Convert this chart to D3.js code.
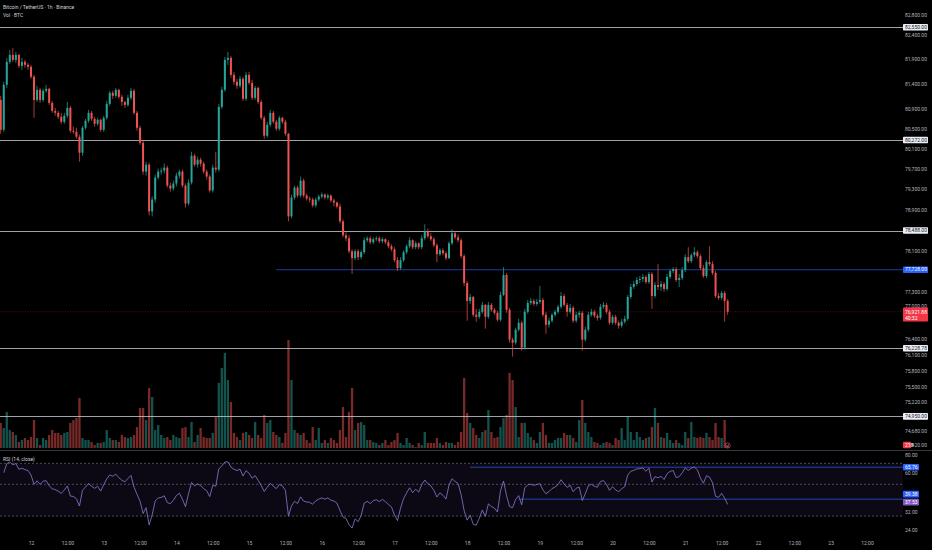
<!DOCTYPE html>
<html>
<head>
<meta charset="utf-8">
<script src="https://cdn.jsdelivr.net/npm/d3@7"></script>
<style>
  html, body { margin: 0; background: #000; }
  svg { display: block; font-family: Roboto, "Noto Sans", sans-serif; }
</style>
</head>
<body>
<div id="chart"></div>
<script>
// BTCUSDT 1h candles, first bar 11th 14:00 (open of the first bar, then closes / highs / lows)
const firstOpen = 81073
const closes = [
  80475,81378,81843,81984,81883,81984,81762,81843,81782,81742,
  81540,81073,81277,81073,81257,81297,81013,80854,80814,80734,
  80635,80754,80914,80455,80435,80336,80018,80515,80655,80814,
  80694,80595,80675,80475,80714,80993,81216,81156,81277,81136,
  81033,80973,81115,81257,80814,80515,80216,79644,79782,78861,
  79094,79526,79644,79664,79723,79369,79310,79409,79566,79644,
  79369,79016,79428,79959,79782,79880,79802,79644,79546,79271,
  79723,79684,80934,81277,81883,81923,81580,81439,81358,81499,
  81095,81580,81418,81115,81317,81033,80714,80356,80575,80814,
  80635,80495,80714,80635,80396,78764,79133,79330,79173,79467,
  79173,79114,79094,78978,79094,79153,79192,79133,79173,79075,
  79036,78958,78667,78396,78338,78086,77952,78086,77971,78067,
  78299,78338,78260,78318,78338,78279,78318,78260,78182,78124,
  77913,77760,77913,78067,78182,78299,78163,78240,78163,78338,
  78473,78376,78318,78202,78028,78105,78047,77952,78240,78434,
  78357,78299,77990,77473,77129,77205,76864,76826,76921,77053,
  76826,77053,76959,76902,76770,77244,77626,76959,76391,76334,
  76580,76713,76240,76921,77091,77129,77072,77110,77148,76864,
  76675,76751,76864,76921,77016,77224,77053,76921,76997,76751,
  76864,76902,76391,76580,76864,76921,76845,76807,77016,77053,
  76921,76713,76826,76713,76656,76732,76788,77205,77397,77454,
  77531,77550,77588,77492,77646,77224,77435,77397,77454,77358,
  77588,77703,77741,77531,77569,77722,77971,77894,78009,78067,
  77990,77760,77607,77875,77837,77665,77224,77186,77282,77129,
  76921.88
]
const highs = [
  81156,81439,81923,82085,82125,82045,82004,81923,81883,81822,
  81782,81580,81358,81317,81297,81378,81317,81053,80914,80854,
  80814,80814,81033,80953,80535,80515,80376,80555,80694,80874,
  80854,80734,80714,80694,80754,81053,81257,81257,81317,81297,
  81176,81053,81176,81317,81297,80854,80555,80256,79841,79821,
  79153,79585,79703,79723,79802,79762,79428,79467,79625,79684,
  79684,79409,79487,80038,79998,79939,79920,79841,79684,79585,
  79782,80038,80993,81338,81944,82045,81964,81641,81499,81560,
  81540,81641,81641,81479,81358,81338,81073,80754,80635,80874,
  80854,80675,80754,80734,80675,80415,79192,79369,79369,79546,
  79507,79212,79153,79133,79133,79192,79232,79212,79212,79192,
  79114,79055,79016,78706,78454,78396,78124,78124,78124,78105,
  78357,78376,78376,78357,78376,78376,78357,78338,78299,78221,
  78163,77971,77971,78105,78221,78357,78318,78279,78260,78396,
  78609,78531,78434,78357,78240,78143,78143,78086,78279,78512,
  78473,78415,78338,78028,77511,77263,77224,76978,76978,77110,
  77072,77110,77091,76997,76940,77301,77779,77665,76997,76429,
  76618,76788,76751,76978,77148,77186,77167,77167,77416,77186,
  76921,76807,76902,76959,77053,77301,77263,77091,77072,77035,
  76921,76940,76940,76637,76921,76978,76959,76883,77072,77110,
  77091,76959,76864,76864,76751,76788,76845,77244,77454,77511,
  77588,77607,77646,77626,77684,77684,77492,77837,77511,77492,
  77646,77741,77779,77779,77646,77779,78028,78163,78047,78163,
  78105,78028,77818,77913,78182,77894,77703,77282,77320,77320,
  77167
]
const lows = [
  80396,80435,81317,81802,81843,81822,81721,81681,81721,81681,
  81499,80714,81033,81013,81033,81216,80973,80814,80754,80694,
  80595,80595,80714,80415,80396,80296,79841,79959,80475,80615,
  80655,80535,80555,80435,80435,80675,80953,81095,81115,81095,
  80953,80914,80934,81073,80774,80455,80177,79585,79566,78784,
  78764,79036,79487,79585,79605,79330,79251,79271,79350,79507,
  79330,78939,78978,79389,79743,79723,79743,79605,79487,79232,
  79232,79625,79644,80894,81237,81782,81519,81378,81297,81317,
  81053,81053,81378,81073,81073,80993,80675,80296,80316,80535,
  80595,80455,80455,80595,80356,78667,78725,79094,79133,79133,
  79133,79075,79036,78939,78939,79055,79114,79094,79094,79036,
  78958,78919,78628,78357,78279,78047,77646,77913,77913,77933,
  78028,78260,78221,78221,78279,78240,78240,78221,78143,78086,
  77875,77703,77722,77875,78028,78143,78124,78124,78124,78124,
  78299,78338,78279,78163,77875,77990,78009,77913,77933,78202,
  78318,78260,77952,77416,76751,77072,76826,76732,76788,76883,
  76599,76788,76921,76864,76732,76732,77224,76902,76334,76070,
  76297,76543,76183,76202,76883,77053,77035,77035,77072,76826,
  76505,76618,76713,76826,76883,76978,77016,76826,76883,76713,
  76713,76807,76183,76353,76543,76826,76807,76751,76770,76978,
  76883,76675,76675,76675,76599,76618,76694,76751,77167,77358,
  77416,77473,77492,77454,77454,76978,77186,77339,77320,77301,
  77320,77550,77665,77492,77397,77531,77684,77856,77856,77971,
  77952,77722,77569,77569,77799,77626,77186,77148,77148,76732,
  76864
]
// volume in BTC
const volumes = [
  1830,1460,2630,1310,1170,950,440,580,730,580,
  800,2040,730,220,730,580,950,1310,1100,1100,
  950,1100,1170,1830,2040,2190,3650,730,580,580,
  440,220,370,370,440,1310,730,580,580,440,
  950,800,730,800,950,1530,2920,2920,2040,4380,
  3720,1310,1680,950,730,800,580,950,800,730,
  1460,1530,800,1900,440,950,1460,800,730,730,
  1100,2260,4750,5840,6940,4960,3360,1100,800,580,
  1100,1170,950,730,1900,950,730,2410,1830,2040,
  1170,950,800,370,1100,7880,4960,1310,1100,950,
  1100,580,370,1530,580,1460,370,580,370,730,
  580,370,1310,2990,800,2630,4380,1310,1830,1900,
  1680,580,580,440,370,220,370,580,220,440,
  580,1100,370,220,730,370,220,70,370,220,
  1170,370,370,370,730,370,220,440,370,370,
  220,440,1170,5110,2560,1830,1460,950,730,1170,
  1310,2770,1170,730,800,1530,2190,2410,5480,4960,
  2990,800,1830,1830,1100,800,580,370,1170,1830,
  950,370,370,580,730,730,1100,950,950,730,
  440,2040,3500,1830,1170,800,440,370,220,370,
  440,370,220,730,580,1460,580,2260,1170,580,
  1170,800,580,730,800,1530,2920,1830,800,730,
  1100,580,370,580,370,220,1170,730,1900,800,
  730,800,730,1100,800,580,1830,800,730,2040,
  218
]

// axis ticks and labels
const priceTicks = [82800, 82400, 81900, 81400, 80900, 80500, 80100, 79700, 79300, 78900,
  78100, 77300, 77000, 76400, 76100, 75800, 75500, 75220, 74680, 74420]
const rsiTicks = [80, 60, 32, 24]
const timeLabels = ['12', '12:00', '13', '12:00', '14', '12:00', '15', '12:00', '16', '12:00',
  '17', '12:00', '18', '12:00', '19', '12:00', '20', '12:00', '21', '12:00', '22', '12:00', '23', '12:00']

// drawn levels
const levels = [82550, 80272, 78488, 76228.78, 74950]
const blueLevel = { price: 77728, from: Date.UTC(2026, 0, 15, 9) }
const rsiLevels = [
  { value: 65.76, from: Date.UTC(2026, 0, 18, 1) },
  { value: 39.38, from: Date.UTC(2026, 0, 18, 17) }
]
const rsiLast = 37.53
const countdown = '40:32'

const W = 932, H = 550, right = 903
const HOUR = 3600e3
const t0 = Date.UTC(2026, 0, 11, 14)
const UP = '#26a69a', DOWN = '#ef5350'
const fmt = d3.format(',.2f')

const candles = closes.map((c, i) => ({
  t: new Date(t0 + i * HOUR),
  o: i ? closes[i - 1] : firstOpen,
  h: highs[i], l: lows[i], c,
  v: volumes[i]
}))

// RSI(14) on closes, Wilder smoothing with expanding seed
function rsi(values, period) {
  let gain = 0, loss = 0
  return values.map((v, i) => {
    if (i === 0) return null
    const d = v - values[i - 1]
    const n = Math.min(i, period)
    gain = (gain * (n - 1) + Math.max(d, 0)) / n
    loss = (loss * (n - 1) + Math.max(-d, 0)) / n
    return loss === 0 ? 100 : 100 - 100 / (1 + gain / loss)
  })
}
const rsiValues = rsi([firstOpen, ...closes], 14).slice(1)

// scales
const x = d3.scaleUtc()
  .domain([new Date(Date.UTC(2026, 0, 12)), new Date(Date.UTC(2026, 0, 23, 12))])
  .range([31, 867])
const y = d3.scaleLog().domain([74420, 82800]).range([445, 15])
const yVol = d3.scaleLinear().domain([0, d3.max(volumes)]).range([448, 340])
const yRsi = d3.scaleLog().domain([24, 80]).range([530, 455])

const svg = d3.select('#chart').append('svg')
  .attr('width', W).attr('height', H)
svg.append('rect').attr('width', W).attr('height', H).attr('fill', '#000')

const defs = svg.append('defs')
defs.append('clipPath').attr('id', 'main-clip')
  .append('rect').attr('x', 0).attr('y', 0).attr('width', right).attr('height', 450)
defs.append('clipPath').attr('id', 'rsi-clip')
  .append('rect').attr('x', 0).attr('y', 451).attr('width', right).attr('height', 85)

// ----- main pane -----
const main = svg.append('g').attr('clip-path', 'url(#main-clip)')

// volume overlay
main.append('g').selectAll('rect')
  .data(candles).join('rect')
  .attr('x', d => x(d.t) - 1.15)
  .attr('width', 2.3)
  .attr('y', d => yVol(d.v))
  .attr('height', d => yVol(0) - yVol(d.v))
  .attr('fill', d => d.c >= d.o ? UP : DOWN)
  .attr('opacity', 0.5)

// horizontal levels
main.append('g').selectAll('line')
  .data(levels).join('line')
  .attr('x1', 0).attr('x2', right)
  .attr('y1', d => Math.round(y(d)) + 0.5).attr('y2', d => Math.round(y(d)) + 0.5)
  .attr('stroke', '#c9ccd4').attr('stroke-width', 0.8)

main.append('line')
  .attr('x1', x(blueLevel.from)).attr('x2', right)
  .attr('y1', y(blueLevel.price)).attr('y2', y(blueLevel.price))
  .attr('stroke', '#2962ff').attr('stroke-width', 0.8).attr('opacity', 0.8)

// last price line
main.append('line')
  .attr('x1', 0).attr('x2', right)
  .attr('y1', y(closes[closes.length - 1])).attr('y2', y(closes[closes.length - 1]))
  .attr('stroke', '#f23645').attr('stroke-width', 0.6)
  .attr('stroke-dasharray', '1,1.5').attr('opacity', 0.55)

// candles
const candle = main.append('g').selectAll('g')
  .data(candles).join('g')
  .attr('fill', d => d.c >= d.o ? UP : DOWN)
  .attr('stroke', d => d.c >= d.o ? UP : DOWN)
candle.append('line')
  .attr('x1', d => x(d.t)).attr('x2', d => x(d.t))
  .attr('y1', d => y(d.h)).attr('y2', d => y(d.l))
  .attr('stroke-width', 0.7)
candle.append('rect')
  .attr('x', d => x(d.t) - 1)
  .attr('width', 2)
  .attr('y', d => y(Math.max(d.o, d.c)))
  .attr('height', d => Math.max(0.7, Math.abs(y(d.o) - y(d.c))))
  .attr('stroke', 'none')

// header
svg.append('text').attr('x', 3).attr('y', 9)
  .attr('font-size', 5).attr('fill', '#d1d4dc')
  .text('Bitcoin / TetherUS · 1h · Binance')
svg.append('text').attr('x', 3).attr('y', 16.5)
  .attr('font-size', 5).attr('fill', '#d1d4dc')
  .text('Vol · BTC')

// ----- RSI pane -----
svg.append('line')
  .attr('x1', 0).attr('x2', W).attr('y1', 450.5).attr('y2', 450.5)
  .attr('stroke', '#434651').attr('stroke-width', 0.8)

const rsiPane = svg.append('g').attr('clip-path', 'url(#rsi-clip)')
rsiPane.append('rect')
  .attr('x', 0).attr('width', right)
  .attr('y', yRsi(70)).attr('height', yRsi(30) - yRsi(70))
  .attr('fill', '#7e57c2').attr('opacity', 0.1)
rsiPane.append('g').selectAll('line')
  .data([70, 50, 30]).join('line')
  .attr('x1', 0).attr('x2', right)
  .attr('y1', d => yRsi(d)).attr('y2', d => yRsi(d))
  .attr('stroke', '#787b86').attr('stroke-width', 0.6)
  .attr('stroke-dasharray', '2,2')
rsiPane.append('g').selectAll('line')
  .data(rsiLevels).join('line')
  .attr('x1', d => x(d.from)).attr('x2', right)
  .attr('y1', d => yRsi(d.value)).attr('y2', d => yRsi(d.value))
  .attr('stroke', '#2962ff').attr('stroke-width', 0.8).attr('opacity', 0.85)
rsiPane.append('path')
  .datum(candles.map((d, i) => [d.t, rsiValues[i]]).slice(1))
  .attr('fill', 'none')
  .attr('stroke', '#8e79d4').attr('stroke-width', 0.8)
  .attr('d', d3.line().x(d => x(d[0])).y(d => yRsi(d[1])))

svg.append('text').attr('x', 3).attr('y', 461)
  .attr('font-size', 5).attr('fill', '#d1d4dc')
  .text('RSI (14, close)')

// ----- axes -----
function styleAxis(g) {
  g.attr('font-size', 5).attr('font-family', 'Roboto, "Noto Sans", sans-serif')
  g.select('.domain').remove()
  g.selectAll('text').attr('fill', '#b2b5be')
}

svg.append('g')
  .attr('transform', `translate(${right},0)`)
  .call(d3.axisRight(y).tickValues(priceTicks).tickFormat(fmt).tickSize(0).tickPadding(2))
  .call(styleAxis)
  .call(g => g.selectAll('.tick').filter(d => d === 77000).select('text').attr('dy', '0.05em'))

svg.append('g')
  .attr('transform', `translate(${right},0)`)
  .call(d3.axisRight(yRsi).tickValues(rsiTicks).tickFormat(d3.format('.2f')).tickSize(0).tickPadding(2))
  .call(styleAxis)

const timeTicks = timeLabels.map((_, i) => new Date(Date.UTC(2026, 0, 12) + i * 12 * HOUR))
svg.append('g')
  .attr('transform', 'translate(0,538)')
  .call(d3.axisBottom(x).tickValues(timeTicks).tickFormat((d, i) => timeLabels[i]).tickSize(0).tickPadding(3))
  .call(styleAxis)

// axis tags
function tag(yPos, text, fill, color, w = 25) {
  const g = svg.append('g')
  g.append('rect')
    .attr('x', right).attr('y', yPos - 3.3)
    .attr('width', w).attr('height', 6.6).attr('rx', 0.8)
    .attr('fill', fill)
  g.append('text')
    .attr('x', right + 2).attr('y', yPos).attr('dy', '0.35em')
    .attr('font-size', 5).attr('fill', color)
    .text(text)
  return g
}

levels.forEach(p => tag(y(p), fmt(p), '#eceff5', '#131722'))
tag(y(blueLevel.price), fmt(blueLevel.price), '#2962ff', '#ffffff')

// last price tag with countdown
const lastY = y(closes[closes.length - 1])
svg.append('rect')
  .attr('x', right).attr('y', lastY - 4.2)
  .attr('width', 25).attr('height', 14).attr('rx', 0.8)
  .attr('fill', '#f23645')
svg.append('text')
  .attr('x', right + 2).attr('y', lastY + 0.8).attr('dy', '0.35em')
  .attr('font-size', 5).attr('fill', '#fff')
  .text(fmt(closes[closes.length - 1]))
svg.append('text')
  .attr('x', right + 2).attr('y', lastY + 6.6).attr('dy', '0.35em')
  .attr('font-size', 5).attr('fill', '#fff')
  .text(countdown)

// current volume tag, sits over the left part of the lowest price label
tag(yVol(volumes[volumes.length - 1]), String(volumes[volumes.length - 1]), '#f23645', '#fff', 8)

// RSI tags
rsiLevels.forEach(d => tag(d.value === 39.38 ? yRsi(d.value) - 5 : yRsi(d.value), d.value.toFixed(2), '#2962ff', '#fff', 16))
tag(yRsi(rsiLast), rsiLast.toFixed(2), '#7e57c2', '#fff', 16)

// small realtime marker near the last bar
const last = candles[candles.length - 1]
svg.append('circle')
  .attr('cx', x(last.t)).attr('cy', 445.5).attr('r', 2.6)
  .attr('fill', 'none').attr('stroke', '#d86a86').attr('stroke-width', 0.6)
svg.append('path')
  .attr('d', d3.arc()({ innerRadius: 0.9, outerRadius: 1.3, startAngle: 0.5, endAngle: 5.2 }))
  .attr('transform', `translate(${x(last.t)},445.5)`)
  .attr('fill', '#d86a86')
</script>
</body>
</html>
